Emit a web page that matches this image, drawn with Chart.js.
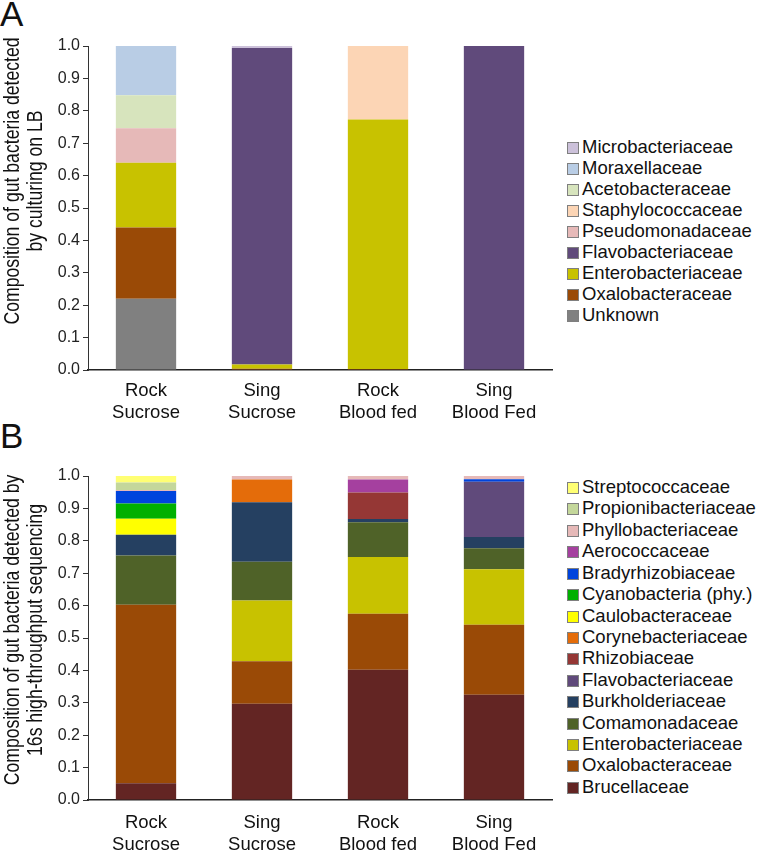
<!DOCTYPE html>
<html>
<head>
<meta charset="utf-8">
<script src="https://cdn.jsdelivr.net/npm/chart.js@4.4.1/dist/chart.umd.min.js"></script>
<style>
  body { margin: 0; background: #fff; width: 758px; height: 853px; overflow: hidden; position: relative; font-family: 'Liberation Sans', Arial, sans-serif; }
  .panel { position: absolute; left: 0; }
  .letter { position: absolute; left: 0; font-size: 35px; color: #111; line-height: 1; }
  .legend { position: absolute; left: 567px; color: #111; font-size: 18.5px; white-space: nowrap; }
  .legend span.box { display: inline-block; width: 10px; height: 10px; border: 1px solid #7f7f7f; margin-right: 3px; vertical-align: -1px; }
  .ytitle { position: absolute; width: 420px; height: 46px; line-height: 23px; font-size: 21.5px; color: #111;
    text-align: center; white-space: nowrap; transform: rotate(-90deg) scaleX(0.82); }
</style>
</head>
<body>
<div class="letter" style="top:-4px;">A</div>
<div class="letter" style="top:418px;">B</div>
<canvas id="chartA" class="panel" style="top:0px;" width="560" height="428"></canvas>
<canvas id="chartB" class="panel" style="top:430px;" width="560" height="423"></canvas>
<div id="titleA" class="ytitle" style="left:-186px; top:158px;"></div>
<div id="titleB" class="ytitle" style="left:-186px; top:607px;"></div>
<div id="legendA" class="legend" style="top:136px;"></div>
<div id="legendB" class="legend" style="top:476px;"></div>
<script>
var groups = [["Rock", "Sucrose"], ["Sing", "Sucrose"], ["Rock", "Blood fed"], ["Sing", "Blood Fed"]];

// panel A - culturing on LB (stack order bottom -> top)
var famA = ["Unknown", "Oxalobacteraceae", "Enterobacteriaceae", "Flavobacteriaceae", "Pseudomonadaceae",
  "Staphylococcaceae", "Acetobacteraceae", "Moraxellaceae", "Microbacteriaceae"];
var colA = ["#808080", "#9a4a06", "#c8c200", "#604a7b", "#e6b9b8", "#fcd5b5", "#d7e4bd", "#b9cde5", "#ccc1da"];
var unknownA = [0.22, 0, 0, 0];
var oxaloA = [0.22, 0.004, 0.003, 0];
var enteroA = [0.20, 0.013, 0.77, 0];
var flavoA = [0, 0.977, 0, 1.0];
var pseudoA = [0.106, 0, 0, 0];
var staphA = [0, 0, 0.227, 0];
var acetoA = [0.102, 0, 0, 0];
var moraxA = [0.152, 0, 0, 0];
var microA = [0, 0.006, 0, 0];
var valsA = [unknownA, oxaloA, enteroA, flavoA, pseudoA, staphA, acetoA, moraxA, microA];

// panel B - 16s sequencing (stack order bottom -> top)
var famB = ["Brucellaceae", "Oxalobacteraceae", "Enterobacteriaceae", "Comamonadaceae", "Burkholderiaceae",
  "Flavobacteriaceae", "Rhizobiaceae", "Corynebacteriaceae", "Caulobacteraceae", "Cyanobacteria (phy.)",
  "Bradyrhizobiaceae", "Aerococcaceae", "Phyllobacteriaceae", "Propionibacteriaceae", "Streptococcaceae"];
var colB = ["#632523", "#9a4a06", "#c8c200", "#4f6228", "#254061", "#604a7b", "#953735", "#e46c0a",
  "#ffff00", "#00b000", "#0044dd", "#a5409f", "#e6b9b8", "#c4d79b", "#ffff73"];
var brucB = [0.052, 0.297, 0.402, 0.325];
var oxaloB = [0.551, 0.131, 0.173, 0.216];
var enteroB = [0, 0.188, 0.175, 0.171];
var comaB = [0.152, 0.119, 0.107, 0.065];
var burkB = [0.064, 0.184, 0.010, 0.035];
var flavoB = [0, 0, 0, 0.170];
var rhizoB = [0, 0, 0.082, 0];
var coryB = [0, 0.070, 0, 0];
var cauloB = [0.049, 0, 0, 0];
var cyanoB = [0.047, 0, 0, 0];
var bradyB = [0.039, 0, 0, 0.008];
var aeroB = [0, 0, 0.040, 0];
var phylloB = [0.003, 0.011, 0.011, 0.010];
var propB = [0.023, 0, 0, 0];
var strepB = [0.020, 0, 0, 0];
var valsB = [brucB, oxaloB, enteroB, comaB, burkB, flavoB, rhizoB, coryB, cauloB, cyanoB, bradyB, aeroB, phylloB, propB, strepB];

var yTicks = [0, 0.1, 0.2, 0.3, 0.4, 0.5, 0.6, 0.7, 0.8, 0.9, 1.0];
var titleA = ['Composition of gut bacteria detected', 'by culturing on LB'];
var titleB = ['Composition of gut bacteria detected by', '16s high-throughput sequencing'];

function makeSets(names, colors, vals) {
  var sets = [];
  for (var i = 0; i < names.length; i++) {
    sets.push({
      label: names[i],
      data: vals[i],
      backgroundColor: colors[i],
      borderWidth: 0,
      barPercentage: 0.52,
      categoryPercentage: 1.0
    });
  }
  return sets;
}

function makeChart(id, names, colors, vals, xHeight, padBottom, labelPad) {
  return new Chart(document.getElementById(id), {
    type: 'bar',
    data: { labels: groups, datasets: makeSets(names, colors, vals) },
    options: {
      responsive: false,
      animation: false,
      layout: { padding: { top: 46, right: 8, left: 0, bottom: padBottom } },
      plugins: { legend: { display: false }, tooltip: { enabled: false } },
      scales: {
        x: {
          stacked: true,
          grid: { display: false },
          border: { display: true, color: '#222', width: 1.5 },
          ticks: { color: '#111', padding: labelPad, maxRotation: 0, font: { family: "'Liberation Sans', Arial", size: 18.5, lineHeight: 1.2 } },
          afterFit: function (s) { s.height = xHeight; }
        },
        y: {
          stacked: true,
          min: 0,
          max: 1,
          afterBuildTicks: function (s) { s.ticks = yTicks.map(function (v) { return { value: v }; }); },
          grid: { drawOnChartArea: false, drawTicks: true, tickLength: 5, color: '#333' },
          border: { display: true, color: '#333', width: 1 },
          ticks: {
            color: '#222', padding: 3,
            font: { family: "'Liberation Sans', Arial", size: 16 },
            callback: function (v) { return v.toFixed(1); }
          },
          afterFit: function (s) { s.width = 88; }
        }
      }
    }
  });
}

function buildLegend(chart, elId, rowH) {
  var el = document.getElementById(elId);
  var sets = chart.data.datasets.slice().reverse();
  sets.forEach(function (ds) {
    var row = document.createElement('div');
    row.style.height = rowH + 'px';
    row.style.lineHeight = rowH + 'px';
    var box = document.createElement('span');
    box.className = 'box';
    box.style.background = ds.backgroundColor;
    row.appendChild(box);
    row.appendChild(document.createTextNode(ds.label));
    el.appendChild(row);
  });
}

function setTitle(elId, lines) {
  document.getElementById(elId).innerHTML = lines.join('<br>');
}

var chartA = makeChart('chartA', famA, colA, valsA, 50, 8, 2);
var chartB = makeChart('chartB', famB, colB, valsB, 53, 0, 4);
buildLegend(chartA, 'legendA', 21);
buildLegend(chartB, 'legendB', 21.43);
setTitle('titleA', titleA);
setTitle('titleB', titleB);
</script>
</body>
</html>
